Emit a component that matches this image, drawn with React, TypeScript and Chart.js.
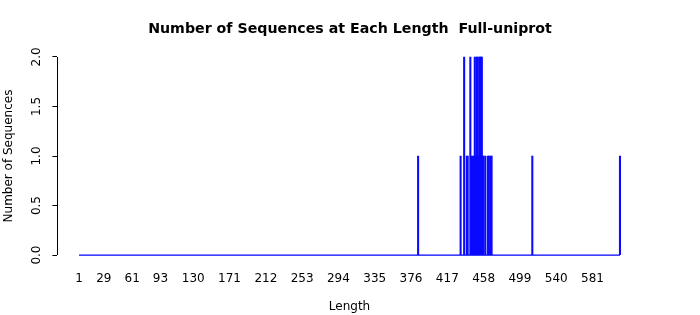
import React, { useEffect, useRef } from "react";
import { Chart, registerables } from "chart.js";

Chart.register(...registerables);

const lengths = [384, 432, 436, 439, 440, 443, 444, 446, 448, 449, 450, 451, 452, 453, 454, 455, 456, 457, 458, 460, 463, 464, 466, 467, 513, 612];
const counts = [1, 1, 2, 1, 1, 2, 1, 1, 2, 1, 2, 2, 1, 2, 2, 2, 2, 1, 1, 1, 1, 1, 1, 1, 1, 1];
const xTickValues = [1, 29, 61, 93, 130, 171, 212, 253, 294, 335, 376, 417, 458, 499, 540, 581];
const yTickValues = [0, 0.5, 1, 1.5, 2];
const lengthRange = [1, 612];

const FONT = "'DejaVu Sans', sans-serif";

export default function App() {
  const ref = useRef<HTMLCanvasElement>(null);
  useEffect(() => {
    if (!ref.current) return;
    const span = lengthRange[1] - lengthRange[0];
    const xmin = lengthRange[0] - span * 0.04;
    const xmax = lengthRange[1] + span * 0.04;
    const ymin = -0.08;
    const ymax = 2.08;

    const yAxisLine = {
      id: "yAxisLine",
      afterDraw(chart: any) {
        const ctx = chart.ctx;
        const ys = chart.scales.y;
        const x = ys.right;
        ctx.save();
        ctx.strokeStyle = "#000";
        ctx.lineWidth = 1;
        ctx.beginPath();
        ctx.moveTo(Math.round(x) + 0.5, ys.getPixelForValue(yTickValues[0]));
        ctx.lineTo(Math.round(x) + 0.5, ys.getPixelForValue(yTickValues[yTickValues.length - 1]));
        ctx.stroke();
        ctx.restore();
      },
    };

    const chart = new Chart(ref.current, {
      type: "bar",
      data: {
        datasets: [
          {
            type: "bar",
            data: lengths.map((l, i) => ({ x: l, y: counts[i] })),
            backgroundColor: "#0a0aff",
            borderWidth: 0,
            barThickness: 1.4,
          } as any,
          {
            type: "line",
            data: [
              { x: lengthRange[0], y: 0 },
              { x: lengthRange[1], y: 0 },
            ],
            borderColor: "#0000ff",
            borderWidth: 1.2,
            pointRadius: 0,
          } as any,
        ],
      },
      options: {
        animation: false,
        responsive: false,
        maintainAspectRatio: false,
        layout: { padding: 0 },
        plugins: {
          legend: { display: false },
          tooltip: { enabled: false },
          title: {
            display: true,
            text: "Number of Sequences at Each Length  Full-uniprot",
            color: "#000",
            font: { family: FONT, size: 14.2, weight: "bold", lineHeight: 1.2 },
            padding: { top: 20.5, bottom: 11.5 },
          },
        },
        scales: {
          x: {
            type: "linear",
            min: xmin,
            max: xmax,
            offset: false,
            afterBuildTicks: (s: any) => {
              s.ticks = xTickValues.map((v) => ({ value: v }));
            },
            afterFit: (s: any) => {
              s.height = 52;
            },
            grid: { display: false, drawTicks: false },
            border: { display: false },
            ticks: {
              autoSkip: false,
              maxRotation: 0,
              minRotation: 0,
              padding: 9,
              color: "#000",
              font: { family: FONT, size: 12 },
              callback: (v: any) => String(v),
            },
            title: {
              display: true,
              text: "Length",
              color: "#000",
              font: { family: FONT, size: 12, lineHeight: 1.2 },
              padding: { top: 0, bottom: 0.8 },
            },
          },
          y: {
            type: "linear",
            min: ymin,
            max: ymax,
            afterBuildTicks: (s: any) => {
              s.ticks = yTickValues.map((v) => ({ value: v }));
            },
            afterFit: (s: any) => {
              s.width = 57.4;
            },
            grid: {
              display: true,
              drawOnChartArea: false,
              drawTicks: true,
              tickLength: 5,
              color: "#000",
              lineWidth: 1,
            },
            border: { display: false },
            ticks: {
              minRotation: 90,
              maxRotation: 90,
              crossAlign: "center",
              padding: 6.4,
              color: "#000",
              font: { family: FONT, size: 12 },
              callback: (v: any) => Number(v).toFixed(1),
            },
            title: {
              display: true,
              text: "Number of Sequences",
              color: "#000",
              font: { family: FONT, size: 12, lineHeight: 1.2 },
              padding: { top: 1.8, bottom: 0 },
            },
          },
          yRight: {
            type: "linear",
            position: "right",
            display: true,
            min: ymin,
            max: ymax,
            afterFit: (s: any) => {
              s.width = 700 - 641.6;
            },
            grid: { display: false, drawTicks: false },
            border: { display: false },
            ticks: { display: false },
          },
        },
      } as any,
      plugins: [yAxisLine],
    });
    return () => chart.destroy();
  }, []);
  return (
    <div style={{ position: "fixed", left: 0, top: 0, width: 700, height: 315, background: "#fff" }}>
      <canvas ref={ref} width={700} height={315} />
    </div>
  );
}
